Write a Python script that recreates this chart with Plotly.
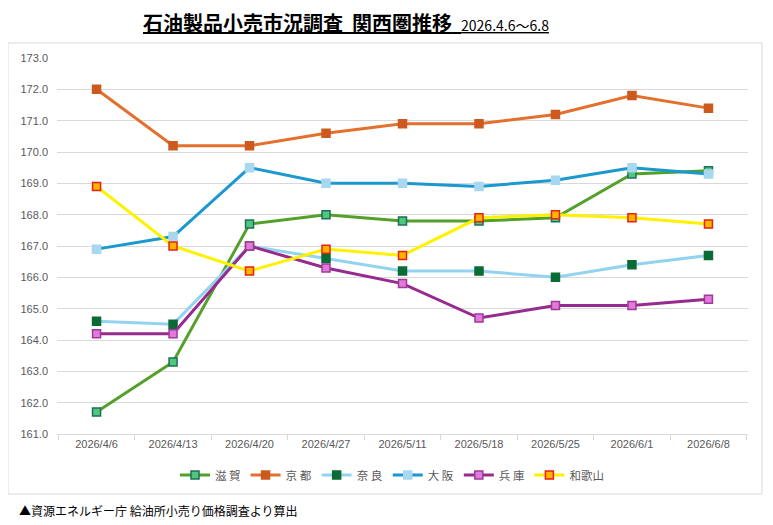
import plotly.graph_objects as go

categories = ["2026/4/6", "2026/4/13", "2026/4/20", "2026/4/27", "2026/5/11",
              "2026/5/18", "2026/5/25", "2026/6/1", "2026/6/8"]

shiga = [161.7, 163.3, 167.7, 168.0, 167.8, 167.8, 167.9, 169.3, 169.4]
kyoto = [172.0, 170.2, 170.2, 170.6, 170.9, 170.9, 171.2, 171.8, 171.4]
nara = [164.6, 164.5, 167.0, 166.6, 166.2, 166.2, 166.0, 166.4, 166.7]
osaka = [166.9, 167.3, 169.5, 169.0, 169.0, 168.9, 169.1, 169.5, 169.3]
hyogo = [164.2, 164.2, 167.0, 166.3, 165.8, 164.7, 165.1, 165.1, 165.3]
wakayama = [168.9, 167.0, 166.2, 166.9, 166.7, 167.9, 168.0, 167.9, 167.7]

series_names = ["滋 賀", "京 都", "奈 良", "大 阪", "兵 庫", "和歌山"]
series_values = [shiga, kyoto, nara, osaka, hyogo, wakayama]
styles = [
    dict(line="#53A02B", fill="#4DC87C", border="#1F6E5C"),
    dict(line="#E4702E", fill="#CC5A1E", border="#CC5A1E"),
    dict(line="#92D3F0", fill="#0B6B35", border="#0B6B35"),
    dict(line="#1B98CE", fill="#A7D8F0", border="#A7D8F0"),
    dict(line="#962A8E", fill="#E07ADB", border="#A03A98"),
    dict(line="#FFF200", fill="#FFB300", border="#E8200C"),
]

FONT = "Noto Sans CJK JP"
fig = go.Figure()
for name, vals, st in zip(series_names, series_values, styles):
    fig.add_trace(go.Scatter(
        x=categories, y=vals, name=name, mode="lines+markers",
        line=dict(color=st["line"], width=3),
        marker=dict(symbol="square", size=8, color=st["fill"],
                    line=dict(color=st["border"], width=1.5)),
    ))

OFF = 8  # page body margin
W, H = 773 - OFF, 525 - OFF
L, R, T, B = 57 - OFF, 748 - OFF, 58 - OFF, 434 - OFF
pw, ph = R - L, B - T

def px(x):
    return (x - OFF - L) / pw

def py(y):
    return (B - (y - OFF)) / ph

fig.update_layout(
    width=W, height=H, autosize=False,
    margin=dict(l=L, r=W - R, t=T, b=H - B),
    paper_bgcolor="white", plot_bgcolor="white",
    font=dict(family=FONT, color="#595959", size=11),
    showlegend=True,
    legend=dict(orientation="h", x=px(392), xanchor="center", y=py(475), yanchor="middle",
                font=dict(size=11.5, color="#595959", family=FONT),
                bgcolor="rgba(0,0,0,0)", itemwidth=30, tracegroupgap=0),
    xaxis=dict(type="category", showgrid=False, showline=True, linecolor="#d9d9d9",
               ticks="outside", tickson="boundaries", ticklen=5, tickcolor="#d9d9d9",
               tickfont=dict(size=11, color="#595959", family="Liberation Sans"),
               fixedrange=True),
    yaxis=dict(range=[161, 173], dtick=1, tickformat=".1f", showgrid=True,
               gridcolor="#d9d9d9", gridwidth=1, zeroline=False, showline=False,
               tickfont=dict(size=11, color="#595959", family="Liberation Sans"),
               ticklabelstandoff=8, fixedrange=True),
    shapes=[dict(type="rect", xref="paper", yref="paper",
                 x0=px(8), x1=px(762), y0=py(494), y1=py(43),
                 line=dict(color="#d9d9d9", width=1), fillcolor="rgba(0,0,0,0)",
                 layer="below")],
    annotations=[
        dict(xref="paper", yref="paper", x=px(346), y=py(22), xanchor="center", yanchor="middle",
             showarrow=False,
             text="<u><b>石油製品小売市況調査  関西圏推移</b>  <span style='font-size:14px;'>2026.4.6～6.8</span></u>",
             font=dict(family=FONT, size=20, color="#000000")),
        dict(xref="paper", yref="paper", x=px(17), y=py(510), xanchor="left", yanchor="middle",
             showarrow=False,
             text="▲資源エネルギー庁 給油所小売り価格調査より算出",
             font=dict(family=FONT, size=12, color="#000000")),
    ],
)

fig.write_html("out.html")
